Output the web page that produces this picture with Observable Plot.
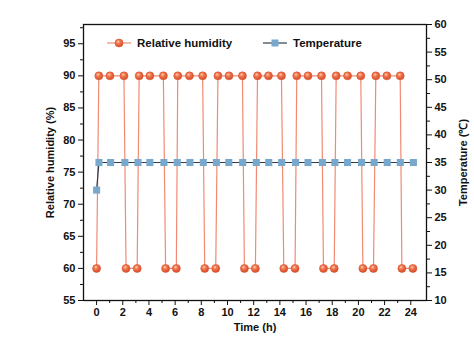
<!DOCTYPE html>
<html>
<head>
<meta charset="utf-8">
<script src="https://cdn.jsdelivr.net/npm/d3@7"></script>
<script src="https://cdn.jsdelivr.net/npm/@observablehq/plot@0.6"></script>
<style>
  html, body { margin: 0; padding: 0; background: #fff; }
  #chart { position: relative; width: 474px; height: 345px; }
</style>
</head>
<body>
<div id="chart"></div>
<script>
// Relative humidity (%) series
const rhTime = [0, 0.17, 1.02, 2.09, 2.25, 3.1, 3.25, 4.07, 5.1, 5.27, 6.09, 6.2, 7.09, 8.1, 8.26, 9.1, 9.27, 10.11, 11.14, 11.29, 12.13, 12.29, 13.13, 14.12, 14.3, 15.16, 15.29, 16.15, 17.18, 17.33, 18.15, 18.3, 19.17, 20.18, 20.34, 21.15, 21.33, 22.17, 23.19, 23.32, 24.16];
const rhValue = [60, 90, 90, 90, 60, 60, 90, 90, 90, 60, 60, 90, 90, 90, 60, 60, 90, 90, 90, 60, 60, 90, 90, 90, 60, 60, 90, 90, 90, 60, 60, 90, 90, 90, 60, 60, 90, 90, 90, 60, 60];

// Temperature (℃) series
const tTime = [0, 0.18, 1.07, 2.16, 3.16, 4.07, 5.14, 6.16, 7.13, 8.15, 9.15, 10.1, 11.16, 12.2, 13.15, 14.14, 15.2, 16.15, 17.25, 18.2, 19.17, 20.24, 21.2, 22.2, 23.2, 24.2];
const tValue = [30, 35, 35, 35, 35, 35, 35, 35, 35, 35, 35, 35, 35, 35, 35, 35, 35, 35, 35, 35, 35, 35, 35, 35, 35, 35];

// Axes
const xTicks = [0, 2, 4, 6, 8, 10, 12, 14, 16, 18, 20, 22, 24];
const xMinor = [1, 3, 5, 7, 9, 11, 13, 15, 17, 19, 21, 23];
const rhTicks = [55, 60, 65, 70, 75, 80, 85, 90, 95];
const rhMinor = [57.5, 62.5, 67.5, 72.5, 77.5, 82.5, 87.5, 92.5, 97.5];
const tTicks = [10, 15, 20, 25, 30, 35, 40, 45, 50, 55, 60];
const tMinor = [12.5, 17.5, 22.5, 27.5, 32.5, 37.5, 42.5, 47.5, 52.5, 57.5];

const seriesNames = ["Relative humidity", "Temperature"];

const rhDomain = [55, 98];
const tDomain = [10, 60];
// map temperature onto the humidity (left) scale
const t2rh = t => rhDomain[0] + (t - tDomain[0]) * (rhDomain[1] - rhDomain[0]) / (tDomain[1] - tDomain[0]);

const rh = rhTime.map((t, i) => ({time: t, value: rhValue[i]}));
const temp = tTime.map((t, i) => ({time: t, value: t2rh(tValue[i])}));

const font = "'Liberation Sans', Arial, sans-serif";
const rhLine = "#f08a72";
const tLine = "#2f3d4c";
const sqFill = "#78a9cc";

const plot = Plot.plot({
  width: 474,
  height: 345,
  marginLeft: 83,
  marginRight: 48,
  marginTop: 24,
  marginBottom: 45,
  style: {fontFamily: font, fontSize: "11px", fontWeight: "bold", color: "#111", background: "#fff"},
  x: {domain: [-1, 25.2]},
  y: {domain: rhDomain},
  marks: [
    Plot.frame({stroke: "#111", strokeWidth: 1.3}),
    // left axis
    Plot.axisY({ticks: rhMinor, tickSize: 3, tickFormat: () => "", label: null}),
    Plot.axisY({ticks: rhTicks, tickSize: 5, tickPadding: 3, label: "Relative humidity (%)", labelAnchor: "center", labelOffset: 37, labelArrow: "none"}),
    // right axis (temperature)
    Plot.axisY({anchor: "right", ticks: tMinor.map(t2rh), tickSize: 3, tickFormat: () => "", label: null}),
    Plot.axisY({anchor: "right", ticks: tTicks.map(t2rh), tickSize: 5, tickPadding: 3,
      tickFormat: (d, i) => tTicks[i], label: "Temperature (℃)", labelAnchor: "center", labelOffset: 40, labelArrow: "none"}),
    // bottom axis
    Plot.axisX({ticks: xMinor, tickSize: 3, tickFormat: () => "", label: null}),
    Plot.axisX({ticks: xTicks, tickSize: 5, tickPadding: 3, label: "Time (h)", labelAnchor: "center", labelOffset: 30, labelArrow: "none"}),
    // humidity
    Plot.line(rh, {x: "time", y: "value", stroke: rhLine, strokeWidth: 1.2}),
    Plot.dot(rh, {x: "time", y: "value", r: 4, fill: "url(#ballGrad)", stroke: "#d9532f", strokeWidth: 0.6}),
    // temperature
    Plot.line(temp, {x: "time", y: "value", stroke: tLine, strokeWidth: 1.2}),
    Plot.dot(temp, {x: "time", y: "value", symbol: "square", r: 4, fill: sqFill, stroke: "none"})
  ]
});

const svg = d3.select(plot);
svg.selectAll("text").style("font-weight", "bold");
const defs = svg.insert("defs", ":first-child");
const grad = defs.append("radialGradient").attr("id", "ballGrad").attr("cx", "40%").attr("cy", "35%").attr("r", "65%");
grad.append("stop").attr("offset", "0%").attr("stop-color", "#ffd2bd");
grad.append("stop").attr("offset", "35%").attr("stop-color", "#f07a52");
grad.append("stop").attr("offset", "100%").attr("stop-color", "#d94a24");

// legend inside the plot area
const lg = svg.append("g").style("font-family", font).style("font-size", "11.5px").style("font-weight", "bold").attr("text-anchor", "start");
const legendItems = [
  {name: seriesNames[0], x0: 107, line: rhLine, kind: "circle"},
  {name: seriesNames[1], x0: 263, line: tLine, kind: "square"}
];
const ly = 43;
legendItems.forEach(it => {
  lg.append("line").attr("x1", it.x0).attr("x2", it.x0 + 24).attr("y1", ly).attr("y2", ly)
    .attr("stroke", it.line).attr("stroke-width", 1.2);
  if (it.kind === "circle") {
    lg.append("circle").attr("cx", it.x0 + 12).attr("cy", ly).attr("r", 4)
      .attr("fill", "url(#ballGrad)").attr("stroke", "#d9532f").attr("stroke-width", 0.6);
  } else {
    lg.append("rect").attr("x", it.x0 + 12 - 3.5).attr("y", ly - 3.5).attr("width", 7).attr("height", 7).attr("fill", sqFill);
  }
  lg.append("text").attr("x", it.x0 + 30).attr("y", ly).attr("dy", "0.35em").attr("fill", "#111").attr("text-anchor", "start").text(it.name);
});

document.getElementById("chart").append(plot);
</script>
</body>
</html>
